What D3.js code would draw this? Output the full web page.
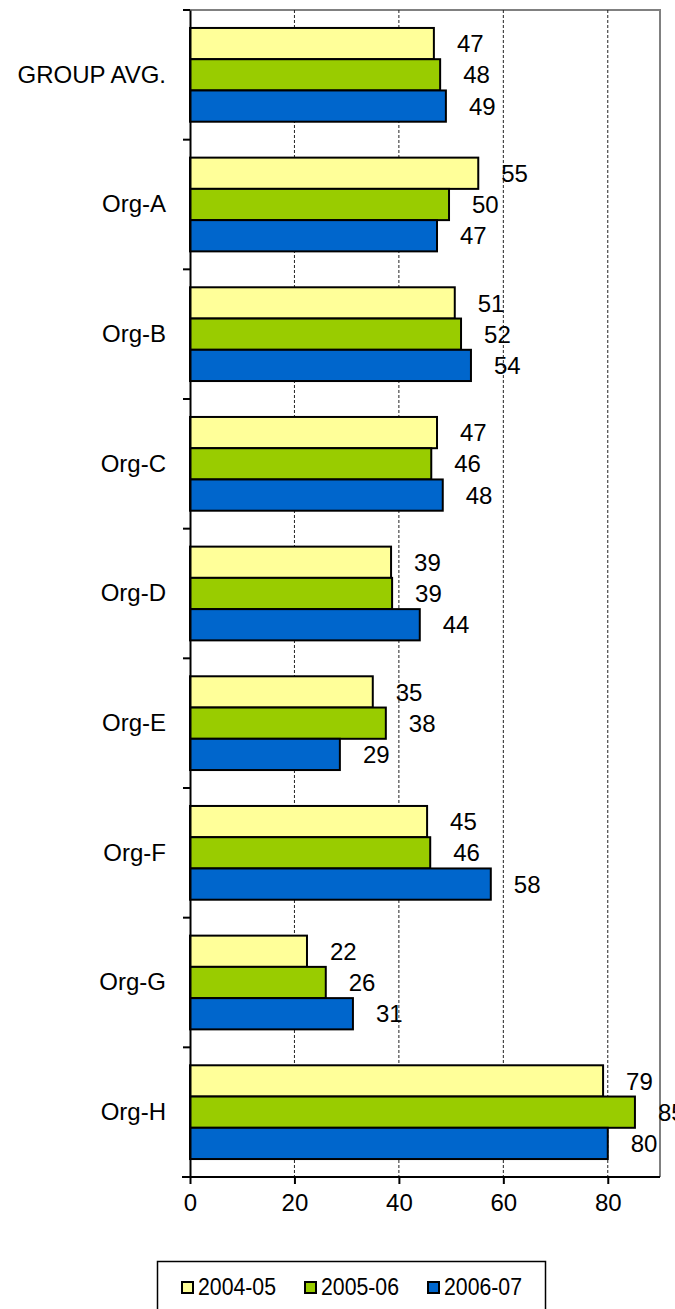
<!DOCTYPE html>
<html>
<head>
<meta charset="utf-8">
<script src="https://cdn.jsdelivr.net/npm/d3@7"></script>
<style>
  body { margin: 0; background: #fff; }
  svg text { font-family: "Liberation Sans", Arial, sans-serif; fill: #000; }
</style>
</head>
<body>
<svg id="chart" width="675" height="1309"></svg>
<script>
// values
var categories = ["GROUP AVG.", "Org-A", "Org-B", "Org-C", "Org-D", "Org-E", "Org-F", "Org-G", "Org-H"];
var seriesNames = ["2004-05", "2005-06", "2006-07"];
var seriesColors = ["#FFFF99", "#99CC00", "#0066CC"];
var v2004 = [46.7, 55.2, 50.7, 47.3, 38.5, 35.0, 45.4, 22.4, 79.1];
var v2005 = [47.9, 49.6, 51.9, 46.2, 38.7, 37.5, 46.0, 26.0, 85.2];
var v2006 = [49.0, 47.3, 53.8, 48.4, 44.0, 28.7, 57.6, 31.2, 80.0];
var xTicks = [0, 20, 40, 60, 80];

var seriesValues = [v2004, v2005, v2006];

var svg = d3.select("#chart");
var plotL = 190, plotR = 660, plotT = 10, plotB = 1177;

var x = d3.scaleLinear().domain([0, 90]).range([plotL, plotR]);
var y = d3.scaleBand().domain(categories).range([plotT, plotB])
  .paddingInner(0.277).paddingOuter(0.1385);
var ySub = d3.scaleBand().domain(seriesNames).range([0, y.bandwidth()]);

// plot frame (grey top / right)
svg.append("path")
  .attr("d", "M" + plotL + "," + plotT + "H" + plotR + "V" + plotB)
  .attr("fill", "none").attr("stroke", "#808080").attr("stroke-width", 2);

// dashed gridlines
svg.append("g").selectAll("line")
  .data(xTicks.filter(function(d) { return d > 0; }))
  .enter().append("line")
  .attr("x1", function(d) { return x(d); }).attr("x2", function(d) { return x(d); })
  .attr("y1", plotT).attr("y2", plotB)
  .attr("stroke", "#222").attr("stroke-width", 1)
  .attr("stroke-dasharray", "3,2");

// bars
var rows = categories.map(function(c, i) {
  return { cat: c, vals: seriesValues.map(function(s, k) { return { name: seriesNames[k], k: k, v: s[i] }; }) };
});

var groups = svg.append("g").selectAll("g")
  .data(rows).enter().append("g")
  .attr("transform", function(d) { return "translate(0," + y(d.cat) + ")"; });

groups.selectAll("rect")
  .data(function(d) { return d.vals; })
  .enter().append("rect")
  .attr("x", x(0))
  .attr("y", function(d) { return ySub(d.name); })
  .attr("width", function(d) { return x(d.v) - x(0); })
  .attr("height", ySub.bandwidth())
  .attr("fill", function(d) { return seriesColors[d.k]; })
  .attr("stroke", "#000").attr("stroke-width", 2);

groups.selectAll("text")
  .data(function(d) { return d.vals; })
  .enter().append("text")
  .attr("x", function(d) { return x(d.v) + 23; })
  .attr("y", function(d) { return ySub(d.name) + ySub.bandwidth() / 2; })
  .attr("dy", "0.36em")
  .attr("font-size", 24)
  .text(function(d) { return Math.round(d.v); });

// left axis
var yAxis = d3.axisLeft(y).tickSize(0).tickPadding(24);
var gy = svg.append("g").attr("transform", "translate(" + plotL + ",0)").call(yAxis);
gy.select(".domain").attr("stroke", "#000").attr("stroke-width", 2);
gy.selectAll("text").attr("font-size", 24).attr("font-family", "Liberation Sans, Arial, sans-serif");
// category boundary ticks
var bounds = d3.range(categories.length + 1).map(function(i) { return plotT + i * y.step(); });
gy.selectAll(".bound").data(bounds).enter().append("line")
  .attr("class", "bound")
  .attr("x1", -7).attr("x2", 0)
  .attr("y1", function(d) { return d; }).attr("y2", function(d) { return d; })
  .attr("stroke", "#000").attr("stroke-width", 2);

// bottom axis
var xAxis = d3.axisBottom(x).tickValues(xTicks).tickSize(7).tickPadding(10).tickSizeOuter(0);
var gx = svg.append("g").attr("transform", "translate(0," + plotB + ")").call(xAxis);
gx.select(".domain").attr("d", "M" + (plotL - 8) + ",0H" + plotR).attr("stroke", "#000").attr("stroke-width", 2);
gx.selectAll(".tick line").attr("stroke", "#000").attr("stroke-width", 2);
gx.selectAll("text").attr("font-size", 24).attr("font-family", "Liberation Sans, Arial, sans-serif");

// legend
var legend = svg.append("g");
legend.append("rect")
  .attr("x", 157.5).attr("y", 1261.5).attr("width", 388).attr("height", 70)
  .attr("fill", "#fff").attr("stroke", "#000").attr("stroke-width", 1.5);
var legX = [182, 305, 428];
var items = legend.selectAll("g.item").data(seriesNames).enter().append("g")
  .attr("class", "item")
  .attr("transform", function(d, i) { return "translate(" + legX[i] + ",0)"; });
items.append("rect")
  .attr("x", 0).attr("y", 1282).attr("width", 11).attr("height", 11)
  .attr("fill", function(d, i) { return seriesColors[i]; })
  .attr("stroke", "#000").attr("stroke-width", 2);
items.append("text")
  .attr("x", 16).attr("y", 1295)
  .attr("font-size", 23)
  .attr("textLength", 78).attr("lengthAdjust", "spacingAndGlyphs")
  .text(function(d) { return d; });
</script>
</body>
</html>
